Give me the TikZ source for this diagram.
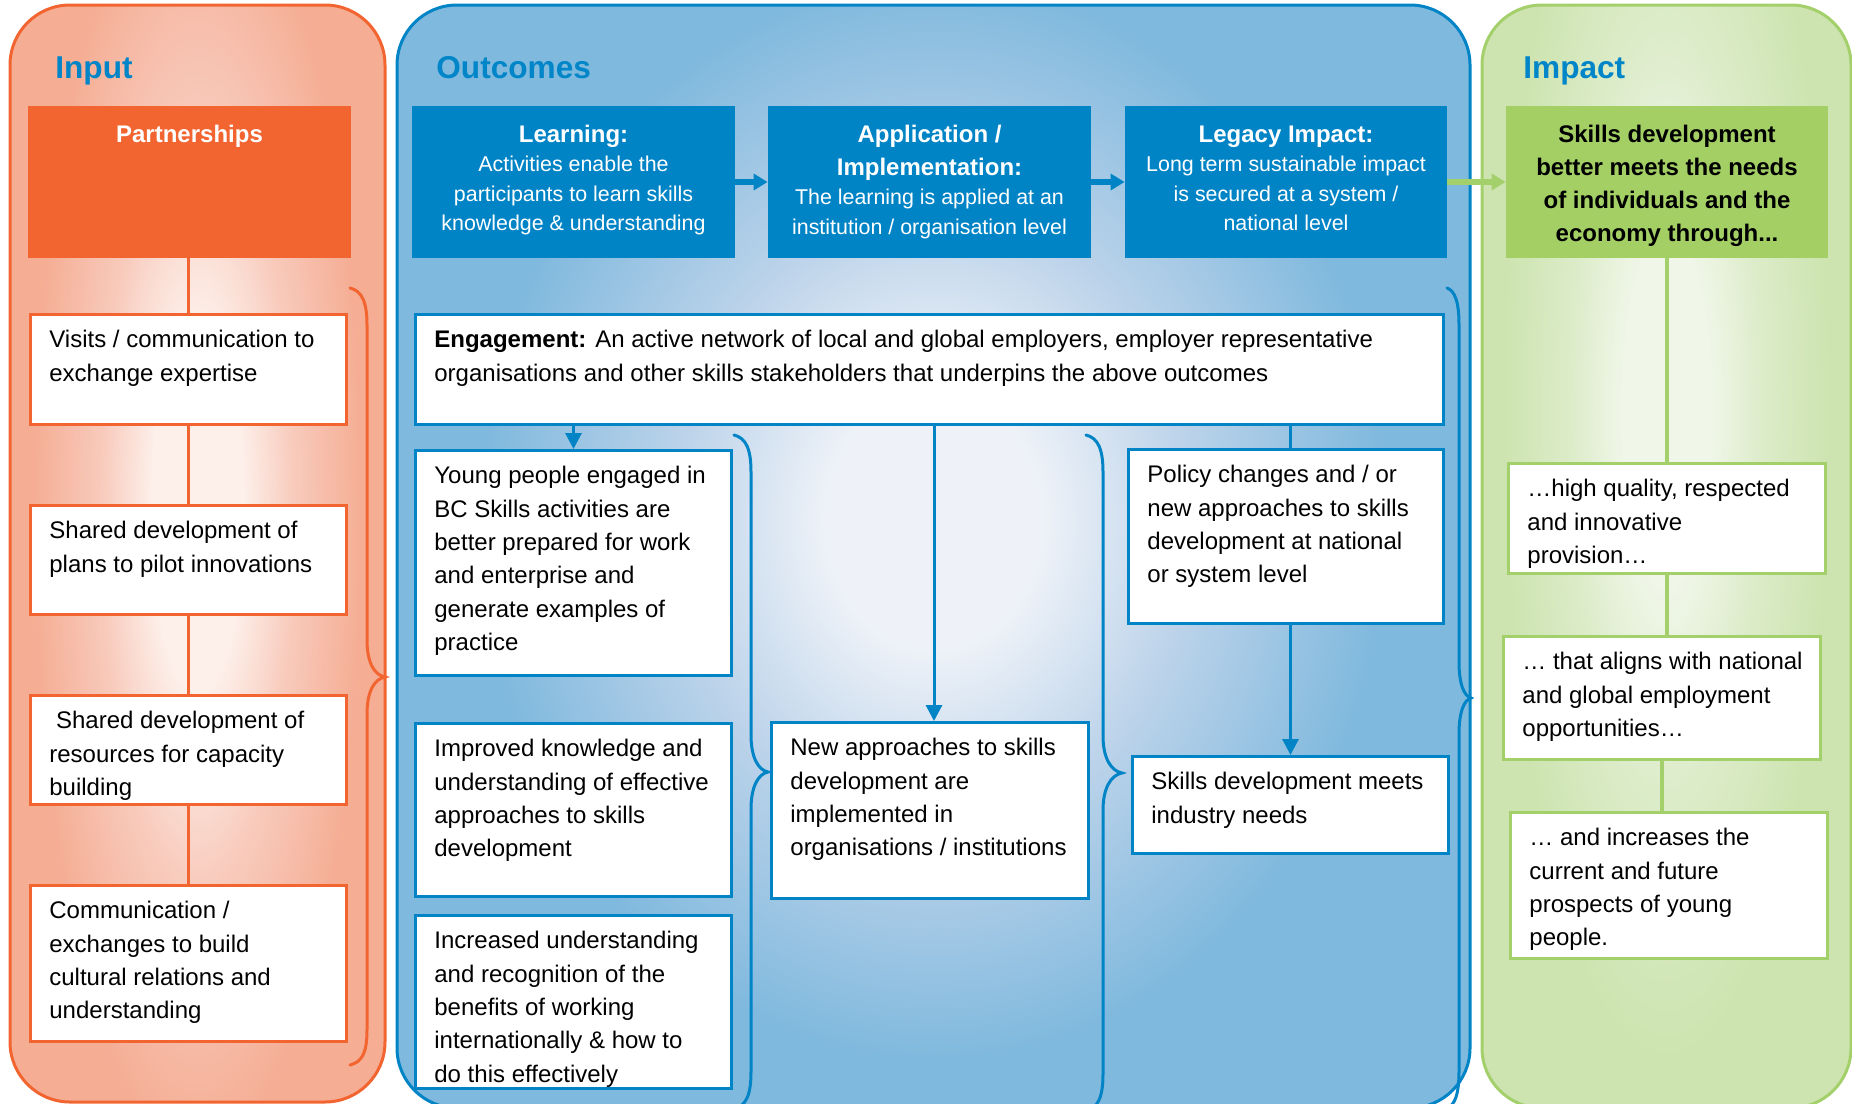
\documentclass[tikz,border=0pt]{standalone}
\usepackage{fontspec}
\setmainfont{Liberation Sans}
\usetikzlibrary{arrows.meta}
\definecolor{orangeC}{HTML}{F26531}
\definecolor{salmonC}{HTML}{F5AD94}
\definecolor{salmonM}{HTML}{F8CABB}
\definecolor{salmonL}{HTML}{FDF0EB}
\definecolor{blueC}{HTML}{0084C6}
\definecolor{titleC}{HTML}{0086C8}
\definecolor{bpanelC}{HTML}{80B9DE}
\definecolor{bpanelM}{HTML}{BCD3EA}
\definecolor{bpanelL}{HTML}{EEF2F8}
\definecolor{greenC}{HTML}{A3CF64}
\definecolor{gborderC}{HTML}{A4D06B}
\definecolor{gpanelC}{HTML}{CDE4B0}
\definecolor{gpanelM}{HTML}{DCECC9}
\definecolor{gpanelL}{HTML}{F0F6E8}
\pgfdeclareradialshading{inshade}{\pgfpoint{0bp}{0bp}}{color(0bp)=(salmonL); color(6bp)=(salmonL); color(13bp)=(salmonM); color(22bp)=(salmonC); color(50bp)=(salmonC)}
\pgfdeclareradialshading{outshade}{\pgfpoint{0bp}{0bp}}{color(0bp)=(bpanelL); color(5bp)=(bpanelL); color(12bp)=(bpanelM); color(21bp)=(bpanelC); color(50bp)=(bpanelC)}
\pgfdeclareradialshading{impshade}{\pgfpoint{0bp}{0bp}}{color(0bp)=(gpanelL); color(6bp)=(gpanelL); color(13bp)=(gpanelM); color(22bp)=(gpanelC); color(50bp)=(gpanelC)}
\newcommand\mystrut{\rule{0pt}{17.25pt}}
\newcommand\hstrut{\rule{0pt}{18pt}}
\newcommand\hdfont{\bfseries\fontsize{12}{14}\selectfont}
\newcommand\mkbox[6]{\node[#1, minimum width={(#5-#3-3.2)*0.5pt}, minimum height={(#6-#4-3.2)*0.5pt}] (#2) at ({(#3+#5)/2},{(#4+#6)/2}) {};}
\newcommand\mkhead[6]{\node[#1, minimum width={(#5-#3)*0.5pt}, minimum height={(#6-#4)*0.5pt}] (#2) at ({(#3+#5)/2},{(#4+#6)/2}) {};}
\tikzset{
  obox/.style={draw=orangeC, line width=1.6pt, fill=white, inner sep=0pt},
  bbox/.style={draw=blueC, line width=1.6pt, fill=white, inner sep=0pt},
  gbx/.style={draw=gborderC, line width=1.6pt, fill=white, inner sep=0pt},
  headbox/.style={inner sep=0pt, draw=none},
  body/.style={anchor=north west, inner sep=0pt, align=left, text=black, font=\fontsize{12}{16.65}\selectfont},
  headtext/.style={anchor=north, inner sep=0pt, align=center, text=white, font=\fontsize{10.7}{14.75}\selectfont},
  paneltitle/.style={anchor=base west, inner sep=0pt, text=titleC, font=\bfseries\fontsize{15.8}{19}\selectfont},
  oline/.style={draw=orangeC, line width=1.6pt},
  gline/.style={draw=gborderC, line width=1.6pt},
  bline/.style={draw=blueC, line width=1.5pt},
  thinarrow/.style={draw=blueC, line width=1.5pt, -{Triangle[length=8pt,width=8pt]}},
  bigarrow/.style={line width=2.75pt, -{Triangle[length=7pt,width=8pt]}},
  bracepath/.style={line width=1.5pt, line cap=round}
}
\begin{document}
\begin{tikzpicture}[x=0.5pt,y=-0.5pt]
\useasboundingbox (0,0) rectangle (1852,1103);
\clip (0,0) rectangle (1852,1103);
% panels
\begin{scope}
\clip[rounded corners=30pt] (10,5) rectangle (385,1102);
\shade[shading=inshade] (10,-230) rectangle (385,1250);
\end{scope}
\draw[orangeC, line width=1.5pt, rounded corners=30pt] (10,5) rectangle (385,1102);
\begin{scope}
\clip[rounded corners=30pt] (397,5) rectangle (1470,1108);
\shade[shading=outshade] (397,-120) rectangle (1470,1160);
\end{scope}
\draw[blueC, line width=1.5pt, rounded corners=30pt] (397,5) rectangle (1470,1108);
\begin{scope}
\clip[rounded corners=30pt] (1482,5) rectangle (1851,1108);
\shade[shading=impshade] (1482,-330) rectangle (1851,1150);
\end{scope}
\draw[gborderC, line width=1.5pt, rounded corners=30pt] (1482,5) rectangle (1851,1108);
% titles
\node[paneltitle] (tin) at (55,78) {Input};
\node[paneltitle] (tout) at (436,78) {Outcomes};
\node[paneltitle] (timp) at (1523,78) {Impact};
% header boxes
\mkhead{headbox, fill=orangeC}{part}{28}{106}{351}{258}
\mkhead{headbox, fill=blueC}{learn}{412}{106}{735}{258}
\mkhead{headbox, fill=blueC}{appl}{768}{106}{1091}{258}
\mkhead{headbox, fill=blueC}{legacy}{1125}{106}{1447}{258}
\mkhead{headbox, fill=greenC}{gbox}{1506}{106}{1828}{258}
\node[headtext, font=\bfseries\fontsize{12}{16.5}\selectfont] (partt) at (part.north) {\hstrut Partnerships};
\node[headtext] (learnt) at (learn.north) {{\hdfont\hstrut Learning:}\\Activities enable the\\participants to learn skills\\knowledge \& understanding};
\node[headtext] (applt) at (appl.north) {{\hdfont\hstrut Application /}\\[1.75pt]{\hdfont Implementation:}\\The learning is applied at an\\institution / organisation level};
\node[headtext] (legt) at (legacy.north) {{\hdfont\hstrut Legacy Impact:}\\Long term sustainable impact\\is secured at a system /\\national level};
\node[headtext, text=black, font=\bfseries\fontsize{12}{16.5}\selectfont] (gboxt) at (gbox.north) {\hstrut Skills development\\better meets the needs\\of individuals and the\\economy through...};
% input boxes
\mkbox{obox}{v1}{29}{313}{348}{426}
\mkbox{obox}{v2}{29}{504}{348}{616}
\mkbox{obox}{v3}{29}{694}{348}{806}
\mkbox{obox}{v4}{29}{884}{348}{1043}
\node[body] (v1t) at ([xshift=10pt]v1.north west) {\mystrut Visits / communication to\\exchange expertise};
\node[body] (v2t) at ([xshift=10pt]v2.north west) {\mystrut Shared development of\\plans to pilot innovations};
\node[body] (v3t) at ([xshift=10pt]v3.north west) {\mystrut\ Shared development of\\resources for capacity\\building};
\node[body] (v4t) at ([xshift=10pt]v4.north west) {\mystrut Communication /\\exchanges to build\\cultural relations and\\understanding};
% outcome boxes
\mkbox{bbox}{eng}{414}{313}{1445}{426}
\mkbox{bbox}{young}{414}{449}{733}{677}
\mkbox{bbox}{impr}{414}{722}{733}{898}
\mkbox{bbox}{incr}{414}{914}{733}{1090}
\mkbox{bbox}{newa}{770}{721}{1090}{900}
\mkbox{bbox}{policy}{1127}{448}{1445}{625}
\mkbox{bbox}{skills}{1131}{755}{1450}{855}
\node[body] (engt) at ([xshift=10pt]eng.north west) {\mystrut\textbf{Engagement:} An active network of local and global employers, employer representative\\organisations and other skills stakeholders that underpins the above outcomes};
\node[body] (youngt) at ([xshift=10pt]young.north west) {\mystrut Young people engaged in\\BC Skills activities are\\better prepared for work\\and enterprise and\\generate examples of\\practice};
\node[body] (imprt) at ([xshift=10pt]impr.north west) {\mystrut Improved knowledge and\\understanding of effective\\approaches to skills\\development};
\node[body] (incrt) at ([xshift=10pt]incr.north west) {\mystrut Increased understanding\\and recognition of the\\benefits of working\\internationally \& how to\\do this effectively};
\node[body] (newat) at ([xshift=10pt]newa.north west) {\mystrut New approaches to skills\\development are\\implemented in\\organisations / institutions};
\node[body] (policyt) at ([xshift=10pt]policy.north west) {\mystrut Policy changes and / or\\new approaches to skills\\development at national\\or system level};
\node[body] (skillst) at ([xshift=10pt]skills.north west) {\mystrut Skills development meets\\industry needs};
% impact boxes
\mkbox{gbx}{hq}{1507}{462}{1827}{575}
\mkbox{gbx}{al}{1502}{635}{1822}{761}
\mkbox{gbx}{inc}{1509}{811}{1829}{960}
\node[body] (hqt) at ([xshift=10pt]hq.north west) {\mystrut …high quality, respected\\and innovative\\provision…};
\node[body] (alt) at ([xshift=10pt]al.north west) {\mystrut … that aligns with national\\and global employment\\opportunities…};
\node[body] (inct) at ([xshift=10pt]inc.north west) {\mystrut … and increases the\\current and future\\prospects of young\\people.};
% connectors
\draw[oline] (v1.north |- part.south) -- (v1.north);
\draw[oline] (v1.south) -- (v2.north);
\draw[oline] (v2.south) -- (v3.north);
\draw[oline] (v3.south) -- (v4.north);
\draw[bigarrow, blueC] (learn.east) -- (appl.west);
\draw[bigarrow, blueC] (appl.east) -- (legacy.west);
\draw[bigarrow, gborderC] (legacy.east) -- (gbox.west);
\draw[thinarrow] (young.north |- eng.south) -- (young.north);
\draw[thinarrow] ([xshift=2pt]newa.north |- eng.south) -- ([xshift=2pt]newa.north);
\draw[bline] (skills.north |- eng.south) -- (skills.north |- policy.north);
\draw[thinarrow] (skills.north |- policy.south) -- (skills.north);
\draw[gline] (gbox.south) -- (gbox.south |- hq.north);
\draw[gline] (hq.south) -- (hq.south |- al.north);
\draw[gline] (al.south) -- (al.south |- inc.north);
% braces
\draw[bracepath, orangeC] (350,288) .. controls (362,291) and (367,302) .. (367,325) -- (367,640) .. controls (367,662) and (374,675) .. (385,677) .. controls (374,679) and (367,692) .. (367,714) -- (367,1030) .. controls (367,1053) and (362,1062) .. (350,1065);
\draw[bracepath, blueC] (734,435) .. controls (746,438) and (751,449) .. (751,472) -- (751,735) .. controls (751,757) and (758,770) .. (768,772) .. controls (758,774) and (751,787) .. (751,809) -- (751,1072) .. controls (751,1095) and (746,1106) .. (734,1109);
\draw[bracepath, blueC] (1086,435) .. controls (1098,438) and (1103,449) .. (1103,472) -- (1103,736) .. controls (1103,758) and (1111,771) .. (1122,773) .. controls (1111,775) and (1103,788) .. (1103,810) -- (1103,1074) .. controls (1103,1097) and (1098,1108) .. (1086,1111);
\draw[bracepath, blueC] (1447,288) .. controls (1455,291) and (1459,302) .. (1459,325) -- (1459,662) .. controls (1459,684) and (1464,696) .. (1471,698) .. controls (1464,700) and (1459,712) .. (1459,734) -- (1459,1071) .. controls (1459,1094) and (1455,1105) .. (1447,1108);
\end{tikzpicture}
\end{document}
